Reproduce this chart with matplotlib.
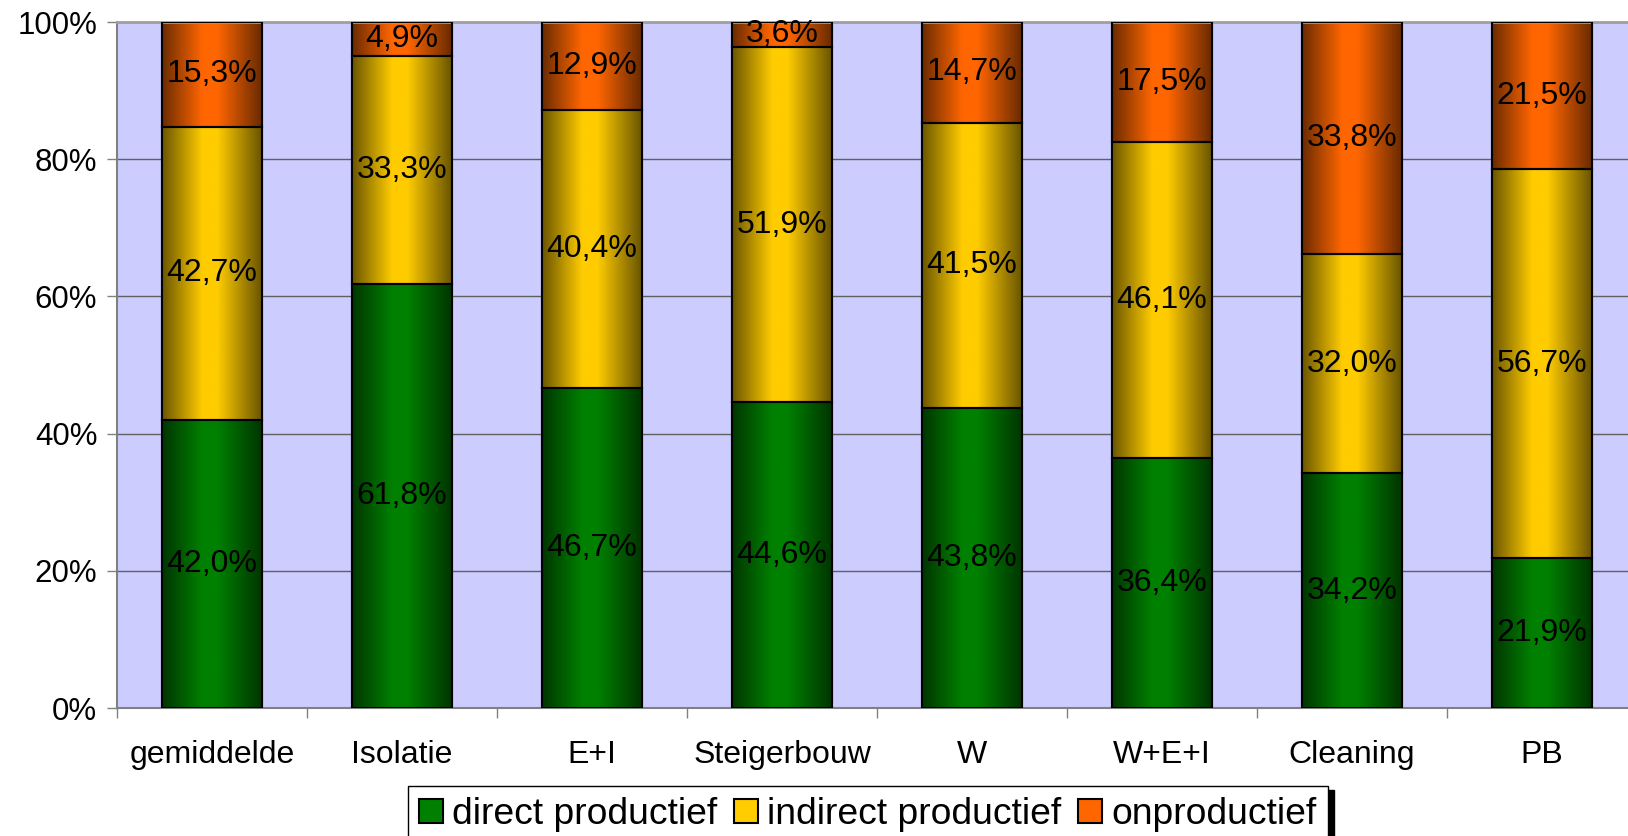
import matplotlib.pyplot as plt
import numpy as np
from matplotlib.colors import to_rgb

plt.rcParams['font.family'] = ['Liberation Sans', 'DejaVu Sans']

# data (percent per category)
categories = ['gemiddelde', 'Isolatie', 'E+I', 'Steigerbouw', 'W', 'W+E+I', 'Cleaning', 'PB']
direct = [42.0, 61.8, 46.7, 44.6, 43.8, 36.4, 34.2, 21.9]
indirect = [42.7, 33.3, 40.4, 51.9, 41.5, 46.1, 32.0, 56.7]
onprod = [15.3, 4.9, 12.9, 3.6, 14.7, 17.5, 33.8, 21.5]
series_names = ['direct productief', 'indirect productief', 'onproductief']
series_colors = ['#008000', '#FFCC00', '#FF6600']
yticks = [0, 20, 40, 60, 80, 100]

W, H = 1628, 836
fig = plt.figure(figsize=(W/100, H/100), dpi=100)
ax = fig.add_axes([117/W, 1-708/H, 1520/W, 686/H])
ax.set_facecolor('#CCCCFF')

x = np.arange(len(categories))
data = np.array([direct, indirect, onprod])
pct = data / data.sum(axis=0) * 100   # 100% stacked

# horizontal shading of the bars (cylinder like)
t = np.linspace(0, 1, 200)
shade = np.interp(t, [0, 0.4, 0.55, 1], [0.42, 1.0, 1.0, 0.40])

bottom = np.zeros(len(categories))
handles = []
for vals, shown, name, col in zip(pct, data, series_names, series_colors):
    bars = ax.bar(x, vals, 0.53, bottom=bottom, color=col, edgecolor='black',
                  linewidth=1.5, zorder=2, label=name)
    handles.append(bars)
    grad = np.array(to_rgb(col))[None, None, :] * shade[None, :, None]
    for r in bars:
        im = ax.imshow(grad, extent=(r.get_x(), r.get_x()+r.get_width(),
                                     r.get_y(), r.get_y()+r.get_height()),
                       aspect='auto', interpolation='bilinear', zorder=2.5)
        im.set_clip_path(r)
    ax.bar(x, vals, 0.53, bottom=bottom, facecolor='none', edgecolor='black',
           linewidth=1.5, zorder=3)
    for xi, b, v, s in zip(x, bottom, vals, shown):
        ax.text(xi, b + v/2, f'{s:.1f}'.replace('.', ',') + '%', ha='center',
                va='center', fontsize=23, zorder=5)
    bottom = bottom + vals

ax.set_xlim(-0.5, len(categories)-0.5)
ax.set_ylim(0, 100)

ax.set_yticks(yticks)
ax.set_yticklabels([f'{v}%' for v in yticks])
ax.tick_params(axis='y', length=7.2, width=1, color='#808080', pad=7, labelsize=22.5)

ax.set_xticks(np.arange(-0.5, len(categories), 1))
ax.set_xticklabels([])
ax.set_xticks(x, minor=True)
ax.set_xticklabels(categories, minor=True)
ax.tick_params(axis='x', which='major', length=7.2, width=1, color='#808080')
ax.tick_params(axis='x', which='minor', length=0, pad=23, labelsize=23)

ax.yaxis.grid(True, color='#606060', linewidth=1)
ax.set_axisbelow(True)
for s in ['left', 'bottom']:
    ax.spines[s].set_color('#808080')
    ax.spines[s].set_linewidth(1.5)
ax.spines['top'].set_color('#a0a0a0')
ax.spines['top'].set_linewidth(2)
ax.spines['right'].set_visible(False)

leg = ax.legend(handles=handles, loc='upper left', bbox_to_anchor=(408/W, 1-786/H),
                bbox_transform=fig.transFigure, ncol=3, fontsize=26.8, frameon=True,
                fancybox=False, edgecolor='black', framealpha=1,
                shadow={'ox': 4, 'oy': -3, 'color': 'black', 'alpha': 1},
                handlelength=0.64, handleheight=0.64, handletextpad=0.25,
                columnspacing=0.45, borderpad=0.3, borderaxespad=0)
leg.get_frame().set_linewidth(1)

fig.savefig('out.png', dpi=100)
